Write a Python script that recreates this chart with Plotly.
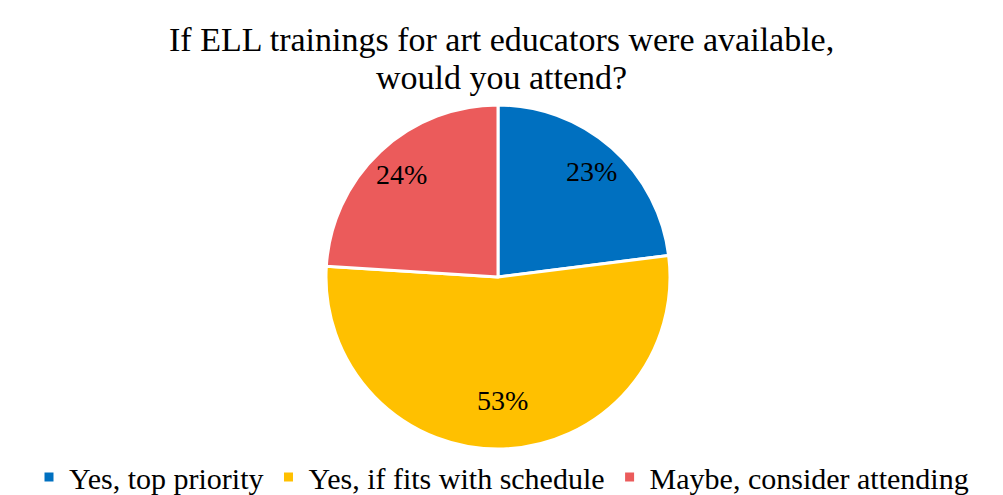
import math
import plotly.graph_objects as go

# Survey responses
labels = ["Yes, top priority", "Yes, if fits with schedule", "Maybe, consider attending"]
values = [23, 53, 24]
colors = ["#0070C0", "#FFC000", "#EB5B5B"]
title_lines = ["If ELL trainings for art educators were available,", "would you attend?"]

W, H = 1003, 495
cx, cy, r = 498, 277, 172  # pie centre and radius in px

fig = go.Figure(go.Pie(
    labels=labels,
    values=values,
    marker=dict(colors=colors, line=dict(color="white", width=3)),
    sort=False,
    direction="clockwise",
    rotation=0,
    textinfo="none",
    hoverinfo="label+percent",
    domain=dict(x=[(cx - r) / W, (cx + r) / W], y=[(H - cy - r) / H, (H - cy + r) / H]),
))

# Percentage labels placed along each slice's mid angle
total = sum(values)
start = 0.0
annotations = []
for v in values:
    mid = (start + v / 2) / total * 2 * math.pi
    start += v
    rr = 0.82 * r
    px = cx + rr * math.sin(mid)
    py = cy - rr * math.cos(mid)
    annotations.append(dict(
        x=px / W, y=1 - py / H, xref="paper", yref="paper",
        text=f"{round(v / total * 100)}%", showarrow=False,
        font=dict(family="Liberation Serif", size=28, color="black"),
    ))

# Two-line title
for line, ypx in zip(title_lines, [40, 77]):
    annotations.append(dict(
        x=0.5, y=1 - ypx / H, xref="paper", yref="paper",
        xanchor="center", yanchor="middle", text=line, showarrow=False,
        font=dict(family="Liberation Serif", size=34, color="black"),
    ))

fig.update_layout(
    width=W, height=H,
    margin=dict(l=0, r=0, t=0, b=0, autoexpand=False),
    paper_bgcolor="white",
    plot_bgcolor="white",
    legend=dict(
        orientation="h", x=0.5, xanchor="center", y=-0.016, yanchor="bottom",
        bgcolor="rgba(0,0,0,0)",
        font=dict(family="Liberation Serif", size=30, color="black"),
        itemwidth=30, traceorder="normal",
    ),
    annotations=annotations,
)

fig.write_html("out.html")
